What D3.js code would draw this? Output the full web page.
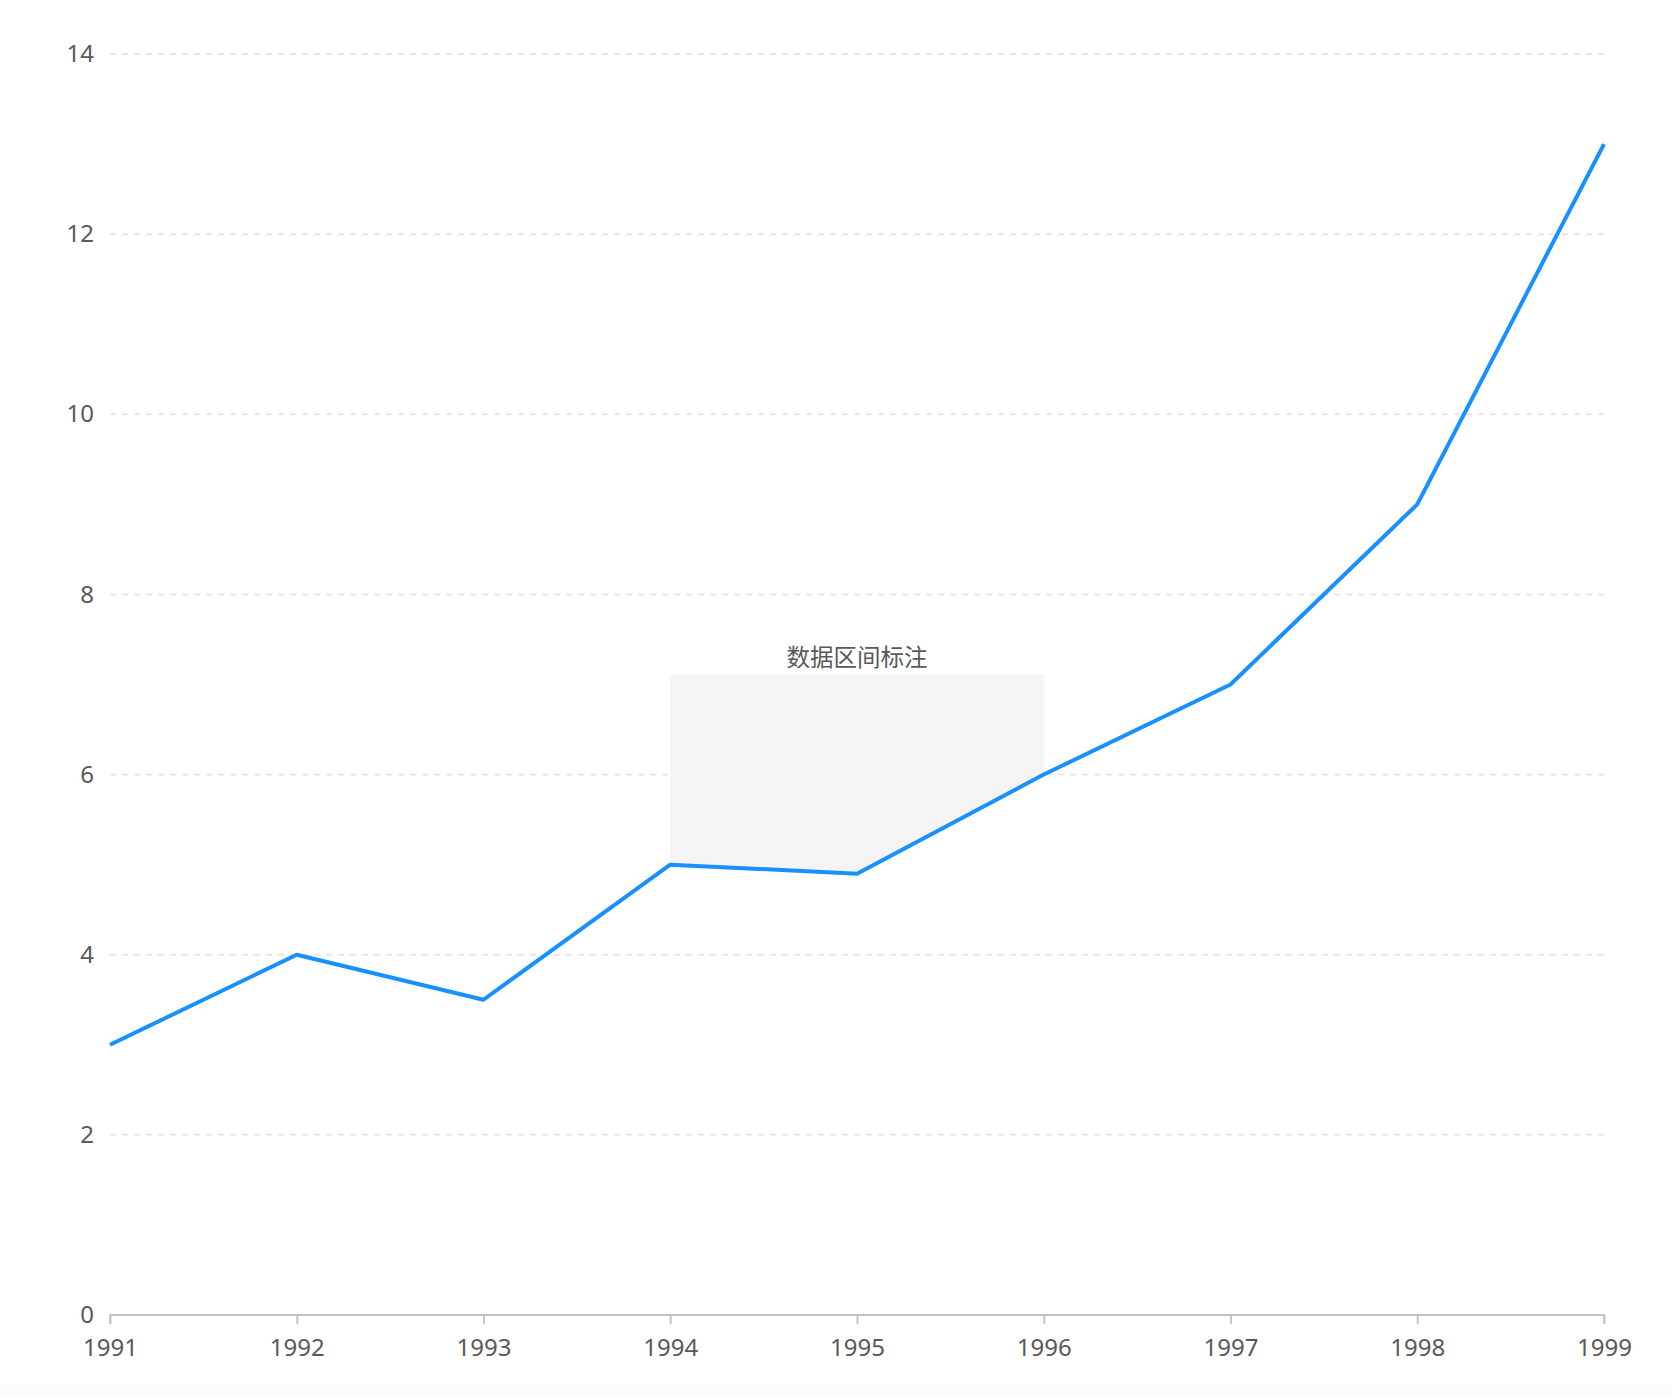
<!DOCTYPE html>
<html>
<head>
<meta charset="utf-8">
<script src="https://cdn.jsdelivr.net/npm/d3@7"></script>
<style>
  html, body { margin: 0; padding: 0; background: #ffffff; }
  svg { display: block; }
  text { font-family: "Noto Sans", "Noto Sans CJK SC", sans-serif; }
</style>
</head>
<body>
<script>
const years = ["1991", "1992", "1993", "1994", "1995", "1996", "1997", "1998", "1999"];
const values = [3, 4, 3.5, 5, 4.9, 6, 7, 9, 13];
const yTicks = [0, 2, 4, 6, 8, 10, 12, 14];
const regionStart = "1994";
const regionEnd = "1996";
const regionTop = 7.11;
const regionLabel = "数据区间标注";

const W = 1672, H = 1396;
const margin = { left: 110, right: 68, top: 54, bottom: 81 };

const svg = d3.select("body").append("svg").attr("width", W).attr("height", H);

// faint bottom strip
svg.append("rect").attr("x", 0).attr("y", 1384).attr("width", W).attr("height", H - 1384).attr("fill", "#fbfbfb");

const x = d3.scalePoint().domain(years).range([margin.left, W - margin.right]);
const y = d3.scaleLinear().domain([0, 14]).range([H - margin.bottom, margin.top]);

// grid lines
svg.append("g").selectAll("line").data(yTicks.filter(d => d !== 0)).join("line")
  .attr("x1", margin.left).attr("x2", W - margin.right)
  .attr("y1", d => y(d)).attr("y2", d => y(d))
  .attr("stroke", "#e6e6e6").attr("stroke-width", 2)
  .attr("stroke-dasharray", "6,6");

// region annotation: polygon from line up to top
const i0 = years.indexOf(regionStart), i1 = years.indexOf(regionEnd);
const regionPts = [];
for (let i = i0; i <= i1; i++) regionPts.push([x(years[i]), y(values[i])]);
regionPts.push([x(regionEnd), y(regionTop)]);
regionPts.push([x(regionStart), y(regionTop)]);
svg.append("path")
  .attr("d", "M" + regionPts.map(p => p.join(",")).join("L") + "Z")
  .attr("fill", "#f4f4f4");

svg.append("text")
  .attr("x", (x(regionStart) + x(regionEnd)) / 2)
  .attr("y", y(regionTop) - 9)
  .attr("text-anchor", "middle")
  .attr("font-size", 23.5)
  .attr("fill", "#595959")
  .text(regionLabel);

// y axis labels
const yAxis = d3.axisLeft(y).tickValues(yTicks).tickSize(0).tickPadding(16);
const gy = svg.append("g").attr("transform", `translate(${margin.left},0)`).call(yAxis);
gy.select(".domain").remove();
gy.selectAll("text").attr("font-size", 24).attr("fill", "#595959")
  .attr("font-family", '"Noto Sans", sans-serif');

// x axis
const xAxis = d3.axisBottom(x).tickSize(9).tickPadding(15);
const gx = svg.append("g").attr("transform", `translate(0,${H - margin.bottom})`).call(xAxis);
gx.select(".domain").attr("stroke", "#c4c4c4").attr("stroke-width", 2)
  .attr("d", `M${margin.left},9V0H${W - margin.right}V9`);
gx.selectAll(".tick line").attr("stroke", "#c4c4c4").attr("stroke-width", 2);
gx.selectAll("text").attr("font-size", 24).attr("fill", "#595959")
  .attr("font-family", '"Noto Sans", sans-serif');

// line
const line = d3.line().x((d, i) => x(years[i])).y(d => y(d));
svg.append("path").datum(values)
  .attr("d", line)
  .attr("fill", "none")
  .attr("stroke", "#1890ff")
  .attr("stroke-width", 4)
  .attr("stroke-linejoin", "round");
</script>
</body>
</html>
